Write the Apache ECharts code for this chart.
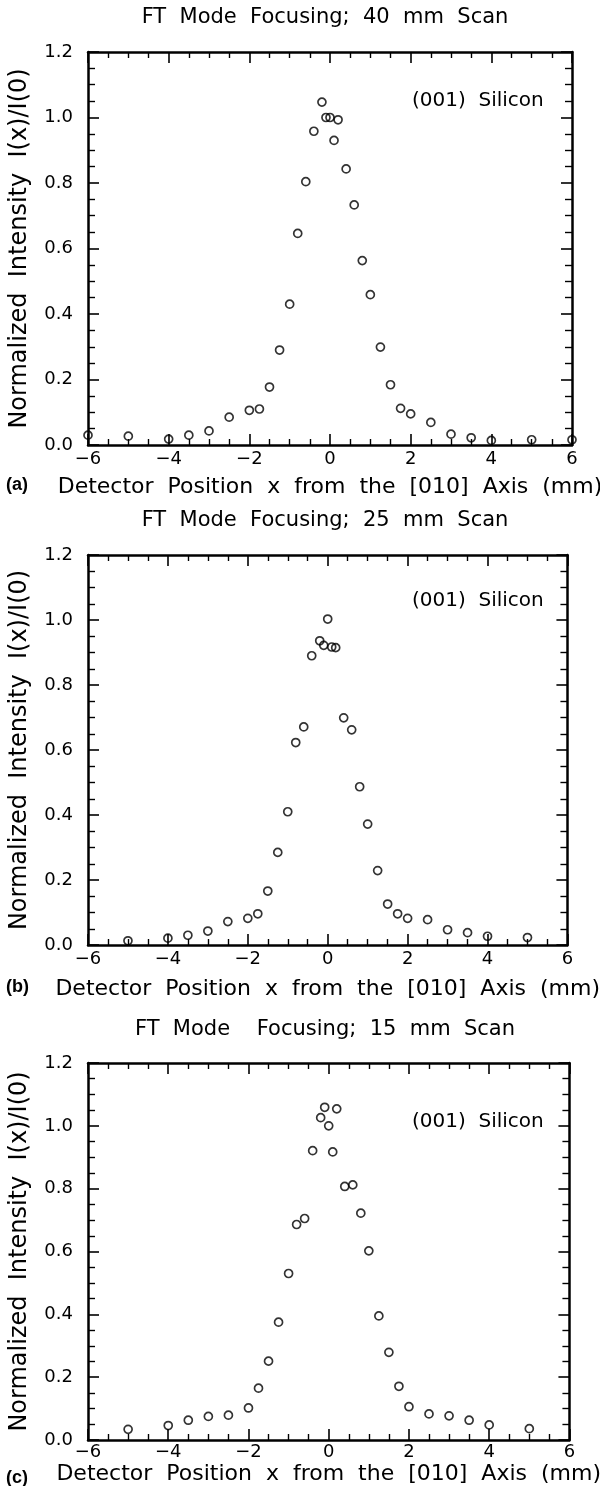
<!DOCTYPE html>
<html>
<head>
<meta charset="utf-8">
<script src="https://cdn.jsdelivr.net/npm/echarts@6/dist/echarts.min.js"></script>
<style>
    html, body { margin: 0; padding: 0; background: #fff; }
    #chart { width: 600px; height: 1486px; }
</style>
</head>
<body>
<div id="chart"></div>
<script>
// panel (a) 40 mm scan
const xA = [-6, -5, -4, -3.5, -3, -2.5, -2, -1.75, -1.5, -1.25, -1, -0.8, -0.6, -0.4, -0.2, -0.1, 0, 0.1, 0.2, 0.4, 0.6, 0.8, 1, 1.25, 1.5, 1.75, 2, 2.5, 3, 3.5, 4, 5, 6];
const yA = [0.030, 0.027, 0.018, 0.030, 0.043, 0.085, 0.106, 0.110, 0.177, 0.290, 0.430, 0.646, 0.804, 0.958, 1.047, 1.000, 1.000, 0.930, 0.993, 0.843, 0.733, 0.563, 0.459, 0.299, 0.184, 0.112, 0.095, 0.069, 0.033, 0.022, 0.014, 0.016, 0.016];
// panel (b) 25 mm scan
const xB = [-5, -4, -3.5, -3, -2.5, -2, -1.75, -1.5, -1.25, -1, -0.8, -0.6, -0.4, -0.2, -0.1, 0, 0.1, 0.2, 0.4, 0.6, 0.8, 1, 1.25, 1.5, 1.75, 2, 2.5, 3, 3.5, 4, 5];
const yB = [0.013, 0.021, 0.030, 0.043, 0.072, 0.082, 0.096, 0.166, 0.285, 0.410, 0.623, 0.671, 0.890, 0.936, 0.922, 1.003, 0.917, 0.915, 0.699, 0.662, 0.487, 0.372, 0.229, 0.126, 0.096, 0.082, 0.078, 0.047, 0.038, 0.027, 0.023];
// panel (c) 15 mm scan
const xC = [-5, -4, -3.5, -3, -2.5, -2, -1.75, -1.5, -1.25, -1, -0.8, -0.6, -0.4, -0.2, -0.1, 0, 0.1, 0.2, 0.4, 0.6, 0.8, 1, 1.25, 1.5, 1.75, 2, 2.5, 3, 3.5, 4, 5];
const yC = [0.034, 0.046, 0.063, 0.075, 0.079, 0.102, 0.165, 0.251, 0.375, 0.530, 0.686, 0.705, 0.921, 1.026, 1.059, 1.000, 0.917, 1.054, 0.807, 0.812, 0.722, 0.602, 0.395, 0.279, 0.171, 0.106, 0.083, 0.077, 0.063, 0.048, 0.036];

const titles = ['FT  Mode  Focusing;  40  mm  Scan', 'FT  Mode  Focusing;  25  mm  Scan', 'FT  Mode    Focusing;  15  mm  Scan'];
const tags = ['(a)', '(b)', '(c)'];
const xTicks = [-6, 6, 2];      // min, max, interval
const yTicks = [0, 1.2, 0.2];
const xName = 'Detector  Position  x  from  the  [010]  Axis  (mm)';
const yName = 'Normalized  Intensity  I(x)/I(0)';
const sample = '(001)  Silicon';

const xs = [xA, xB, xC];
const ys = [yA, yB, yC];

// layout of each panel, px
const boxes = [
    { left: 79, right: 28, top: 52, height: 393, titleY: 18, gap: 31, margin: 5, sampleY: 101 },
    { left: 84, right: 23, top: 555, height: 390, titleY: 521, gap: 33, margin: 5, sampleY: 601 },
    { left: 82, right: 25, top: 1063, height: 383, titleY: 1030, gap: 23, margin: 3, sampleY: 1122 }
];

const font = '"DejaVu Sans", sans-serif';
const black = '#000';

let grid = [], xAxis = [], yAxis = [], series = [], graphic = [];

boxes.forEach((b, i) => {
    grid.push({ left: b.left, right: b.right, top: b.top, height: b.height, containLabel: false });
    const xBase = {
        gridIndex: i, type: 'value', min: xTicks[0], max: xTicks[1], interval: xTicks[2],
        axisLine: { show: true, onZero: false, lineStyle: { color: black, width: 2.5 } },
        axisTick: { show: true, inside: true, length: 11, lineStyle: { color: black, width: 1.6 } },
        minorTick: { show: true, splitNumber: 4, length: 6, lineStyle: { color: black, width: 1.4 } },
        splitLine: { show: false }
    };
    xAxis.push(Object.assign({}, xBase, {
        position: 'bottom',
        axisLabel: {
            color: black, fontFamily: font, fontSize: 18, margin: b.margin,
            formatter: v => String(v).replace('-', '\u2212')
        },
        name: xName, nameLocation: 'middle', nameGap: b.gap,
        nameTextStyle: { color: black, fontFamily: font, fontSize: 22 }
    }));
    xAxis.push(Object.assign({}, xBase, { position: 'top', axisLabel: { show: false } }));

    const yBase = {
        gridIndex: i, type: 'value', min: yTicks[0], max: yTicks[1], interval: yTicks[2],
        axisLine: { show: true, onZero: false, lineStyle: { color: black, width: 2.5 } },
        axisTick: { show: true, inside: true, length: 11, lineStyle: { color: black, width: 1.6 } },
        minorTick: { show: true, splitNumber: 4, length: 7, lineStyle: { color: black, width: 1.4 } },
        splitLine: { show: false }
    };
    yAxis.push(Object.assign({}, yBase, {
        position: 'left',
        axisLabel: { color: black, fontFamily: font, fontSize: 18, margin: 15, formatter: v => v.toFixed(1) },
        name: yName, nameLocation: 'middle', nameGap: 56, nameRotate: 90,
        nameTextStyle: { color: black, fontFamily: font, fontSize: 24 }
    }));
    yAxis.push(Object.assign({}, yBase, { position: 'right', axisLabel: { show: false } }));

    series.push({
        type: 'scatter',
        xAxisIndex: i * 2, yAxisIndex: i * 2,
        data: xs[i].map((x, k) => [x, ys[i][k]]),
        symbol: 'circle', symbolSize: 8,
        itemStyle: { color: 'rgba(0,0,0,0)', borderColor: black, borderWidth: 1.7 },
        emphasis: { disabled: true },
        silent: true
    });

    graphic.push({
        type: 'text', x: 325, y: b.titleY,
        style: { text: titles[i], font: '21px ' + font, fill: black, textAlign: 'center', textVerticalAlign: 'middle' }
    });
    graphic.push({
        type: 'text', x: 412, y: b.sampleY,
        style: { text: sample, font: '20px ' + font, fill: black, textAlign: 'left', textVerticalAlign: 'middle' }
    });
    graphic.push({
        type: 'text', x: 6, y: b.top + b.height + b.gap + 9,
        style: { text: tags[i], font: 'bold 18px "Liberation Sans", Arial, sans-serif', fill: black, textAlign: 'left', textVerticalAlign: 'middle' }
    });
});

const myChart = echarts.init(document.getElementById('chart'), null, { renderer: 'canvas' });
myChart.setOption({
    backgroundColor: '#fff',
    animation: false,
    grid, xAxis, yAxis, series, graphic
});
</script>
</body>
</html>
